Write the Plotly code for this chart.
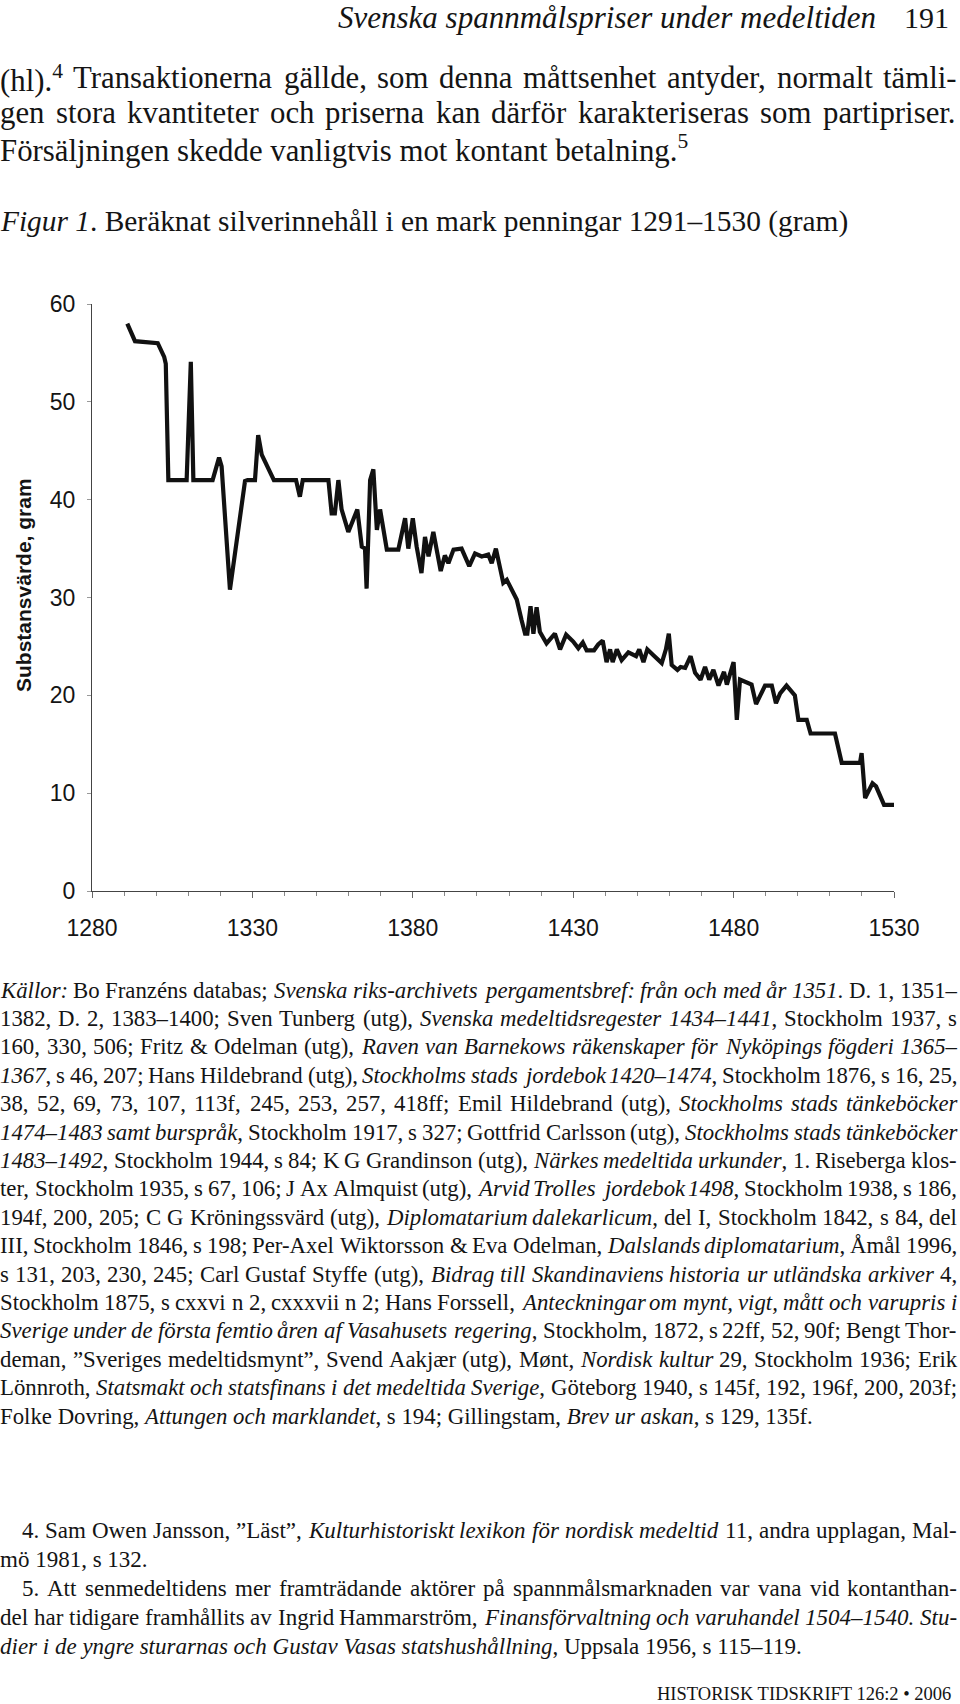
import re
import plotly.graph_objects as go

# ---- data ----
years = [
    1291.0, 1293.4, 1300.5, 1302.5, 1303.0, 1303.8, 1309.5, 1310.8, 1311.6, 1317.6,
    1319.6, 1320.4, 1323.0, 1327.7, 1328.5, 1330.8, 1331.8, 1332.9, 1336.7, 1343.6,
    1344.8, 1345.7, 1353.7, 1354.7, 1355.7, 1356.8, 1357.8, 1359.9, 1362.7, 1364.1,
    1365.1, 1365.6, 1366.7, 1367.7, 1368.8, 1369.8, 1371.9, 1375.5, 1377.6, 1378.6,
    1380.0, 1381.2, 1382.7, 1383.8, 1384.9, 1386.4, 1388.7, 1390.0, 1391.1, 1392.7,
    1395.2, 1397.6, 1399.4, 1401.5, 1403.5, 1404.6, 1405.9, 1408.2, 1409.3, 1410.3,
    1412.4, 1413.9, 1415.0, 1415.7, 1416.7, 1417.6, 1418.6, 1419.6, 1421.7, 1424.3,
    1425.9, 1427.8, 1430.0, 1431.6, 1433.0, 1434.2, 1436.5, 1437.8, 1439.2, 1440.4,
    1441.5, 1442.3, 1443.6, 1445.1, 1447.2, 1449.6, 1450.6, 1451.9, 1453.1, 1455.0,
    1457.6, 1458.9, 1459.8, 1460.7, 1462.5, 1463.5, 1464.9, 1466.6, 1468.0, 1469.7,
    1471.1, 1472.4, 1473.7, 1475.3, 1477.0, 1477.9, 1480.0, 1481.0, 1482.0, 1485.6,
    1487.0, 1489.8, 1491.9, 1493.2, 1494.5, 1496.5, 1499.1, 1500.2, 1502.8, 1504.0,
    1511.6, 1513.7, 1519.4, 1519.9, 1521.0, 1523.3, 1524.4, 1526.9, 1530.0,
]
silver_gram = [
    58.0, 56.2, 56.0, 54.6, 53.9, 42.0, 42.0, 54.1, 42.0, 42.0,
    44.3, 43.4, 30.8, 41.9, 42.0, 42.0, 46.6, 44.6, 42.0, 42.0,
    40.3, 42.0, 42.0, 38.6, 38.6, 42.0, 39.0, 36.7, 39.0, 35.2,
    35.0, 30.9, 42.0, 43.1, 36.9, 39.0, 34.9, 34.9, 38.1, 35.0,
    38.1, 35.2, 32.5, 36.2, 34.2, 36.7, 32.7, 34.3, 33.5, 34.9,
    35.0, 33.2, 34.5, 34.2, 34.4, 33.5, 35.0, 31.5, 31.8, 31.2,
    29.8, 27.7, 26.3, 26.3, 29.1, 26.3, 29.0, 26.5, 25.3, 26.3,
    24.7, 26.2, 25.5, 24.8, 25.4, 24.6, 24.6, 25.2, 25.6, 23.4,
    24.7, 23.4, 24.7, 23.6, 24.4, 24.0, 24.7, 23.4, 24.7, 24.1,
    23.3, 24.7, 26.3, 23.1, 22.6, 22.9, 22.8, 24.0, 22.3, 21.6,
    22.9, 21.6, 22.6, 21.0, 22.4, 21.1, 23.4, 17.5, 21.6, 21.1,
    19.1, 21.0, 21.0, 19.2, 20.2, 21.0, 20.0, 17.5, 17.5, 16.1,
    16.1, 13.1, 13.1, 14.1, 9.5, 11.0, 10.7, 8.8, 8.8,
]
x_tick_values = [1280, 1330, 1380, 1430, 1480, 1530]
y_tick_values = [0, 10, 20, 30, 40, 50, 60]

header_title = "Svenska spannmålspriser under medeltiden"
page_number = "191"
body_lines = [
    "(hl).<sup>4</sup> Transaktionerna gällde, som denna måttsenhet antyder, normalt tämli-",
    "gen stora kvantiteter och priserna kan därför karakteriseras som partipriser.",
    "Försäljningen skedde vanligtvis mot kontant betalning.<sup>5</sup>",
]
body_justify = [True, True, False]
caption = "<i>Figur 1</i>. Beräknat silverinnehåll i en mark penningar 1291–1530 (gram)"
y_title = "Substansvärde, gram"
source_lines = [
    "<i>Källor:</i> Bo Franzéns databas; <i>Svenska riks-archivets pergamentsbref: från och med år 1351</i>. D. 1, 1351–",
    "1382, D. 2, 1383–1400; Sven Tunberg (utg), <i>Svenska medeltidsregester 1434–1441</i>, Stockholm 1937, s",
    "160, 330, 506; Fritz & Odelman (utg), <i>Raven van Barnekows räkenskaper för Nyköpings fögderi 1365–</i>",
    "<i>1367</i>, s 46, 207; Hans Hildebrand (utg), <i>Stockholms stads jordebok 1420–1474</i>, Stockholm 1876, s 16, 25,",
    "38, 52, 69, 73, 107, 113f, 245, 253, 257, 418ff; Emil Hildebrand (utg), <i>Stockholms stads tänkeböcker</i>",
    "<i>1474–1483 samt burspråk</i>, Stockholm 1917, s 327; Gottfrid Carlsson (utg), <i>Stockholms stads tänkeböcker</i>",
    "<i>1483–1492</i>, Stockholm 1944, s 84; K G Grandinson (utg), <i>Närkes medeltida urkunder</i>, 1. Riseberga klos-",
    "ter, Stockholm 1935, s 67, 106; J Ax Almquist (utg), <i>Arvid Trolles jordebok 1498</i>, Stockholm 1938, s 186,",
    "194f, 200, 205; C G Kröningssvärd (utg), <i>Diplomatarium dalekarlicum</i>, del I, Stockholm 1842, s 84, del",
    "III, Stockholm 1846, s 198; Per-Axel Wiktorsson & Eva Odelman, <i>Dalslands diplomatarium</i>, Åmål 1996,",
    "s 131, 203, 230, 245; Carl Gustaf Styffe (utg), <i>Bidrag till Skandinaviens historia ur utländska arkiver</i> 4,",
    "Stockholm 1875, s cxxvi n 2, cxxxvii n 2; Hans Forssell, <i>Anteckningar om mynt, vigt, mått och varupris i</i>",
    "<i>Sverige under de första femtio åren af Vasahusets regering</i>, Stockholm, 1872, s 22ff, 52, 90f; Bengt Thor-",
    "deman, ”Sveriges medeltidsmynt”, Svend Aakjær (utg), Mønt, <i>Nordisk kultur</i> 29, Stockholm 1936; Erik",
    "Lönnroth, <i>Statsmakt och statsfinans i det medeltida Sverige</i>, Göteborg 1940, s 145f, 192, 196f, 200, 203f;",
    "Folke Dovring, <i>Attungen och marklandet</i>, s 194; Gillingstam, <i>Brev ur askan</i>, s 129, 135f.",
]
source_justify = [True] * 15 + [False]
footnote_lines = [
    "4. Sam Owen Jansson, ”Läst”, <i>Kulturhistoriskt lexikon för nordisk medeltid</i> 11, andra upplagan, Mal-",
    "mö 1981, s 132.",
    "5. Att senmedeltidens mer framträdande aktörer på spannmålsmarknaden var vana vid kontanthan-",
    "del har tidigare framhållits av Ingrid Hammarström, <i>Finansförvaltning och varuhandel 1504–1540. Stu-</i>",
    "<i>dier i de yngre sturarnas och Gustav Vasas statshushållning</i>, Uppsala 1956, s 115–119.",
]
footnote_indent = [True, False, True, False, False]
footnote_justify = [True, False, True, True, False]
footer = "HISTORISK TIDSKRIFT 126:2 • 2006"

# ---- layout helpers ----
W, H = 960, 1704
RIGHT_EDGE = 957
def px(x):
    return x / W
def py(y):
    return 1 - y / H

SERIF = "Liberation Serif"
SANS = "Liberation Sans"
INK = "#141414"

# Advance widths (1/1000 em) of the Times-compatible Liberation Serif
_REG = {' ': 250, '(': 333, ')': 333, ',': 250, '-': 333, '.': 250, ':': 278, ';': 278,
        '&': 778, '–': 500, '”': 444, '"': 408, '•': 350}
_ITA = {' ': 250, '(': 333, ')': 333, ',': 250, '-': 333, '.': 250, ':': 333, ';': 333,
        '&': 778, '–': 500, '”': 556, '"': 420, '•': 350}
for tbl in (_REG, _ITA):
    for ch in "0123456789":
        tbl[ch] = 500
_REG.update(dict(zip("ABCDEFGHIJKLMNOPQRSTUVWXYZ",
    [722, 667, 667, 722, 611, 556, 722, 722, 333, 389, 722, 611, 889, 722, 722, 556, 722, 667, 556, 611, 722, 722, 944, 722, 722, 611])))
_REG.update(dict(zip("abcdefghijklmnopqrstuvwxyz",
    [444, 500, 444, 500, 444, 333, 500, 500, 278, 278, 500, 278, 778, 500, 500, 500, 500, 333, 389, 278, 500, 500, 722, 500, 500, 444])))
_ITA.update(dict(zip("ABCDEFGHIJKLMNOPQRSTUVWXYZ",
    [611, 611, 667, 722, 611, 611, 722, 722, 333, 444, 667, 556, 833, 667, 722, 611, 722, 611, 500, 556, 722, 611, 833, 611, 556, 556])))
_ITA.update(dict(zip("abcdefghijklmnopqrstuvwxyz",
    [500, 500, 444, 500, 444, 278, 500, 500, 278, 278, 444, 278, 722, 500, 500, 500, 500, 389, 389, 278, 500, 444, 667, 444, 444, 389])))
for tbl in (_REG, _ITA):
    for acc, base in (("åäá", "a"), ("öø", "o"), ("é", "e"), ("ÅÄ", "A"), ("Ö", "O")):
        for ch in acc:
            tbl[ch] = tbl[base]
_REG['æ'] = 667
_ITA['æ'] = 667


def parse_words(line):
    chars = []
    italic = sup = False
    for tok in re.split(r'(</?i>|</?sup>)', line):
        if tok == '<i>':
            italic = True
        elif tok == '</i>':
            italic = False
        elif tok == '<sup>':
            sup = True
        elif tok == '</sup>':
            sup = False
        else:
            chars.extend((c, italic, sup) for c in tok)
    words, cur = [], []
    for c in chars:
        if c[0] == ' ':
            if cur:
                words.append(cur)
                cur = []
        else:
            cur.append(c)
    if cur:
        words.append(cur)
    return words


def word_html(word):
    out, i = "", 0
    while i < len(word):
        it, sp = word[i][1], word[i][2]
        j = i
        seg = ""
        while j < len(word) and word[j][1] == it and word[j][2] == sp:
            seg += word[j][0]
            j += 1
        if sp:
            seg = "<sup>" + seg + "</sup>"
        if it:
            seg = "<i>" + seg + "</i>"
        out += seg
        i = j
    return out


def word_width(word, size):
    w = 0.0
    for ch, it, sp in word:
        tbl = _ITA if it else _REG
        w += tbl.get(ch, 500) / 1000 * size * (0.7 if sp else 1.0)
    return w


fig = go.Figure()
fig.add_trace(go.Scatter(
    x=years, y=silver_gram, mode="lines",
    line=dict(color="#111111", width=4.2),
    hoverinfo="skip", showlegend=False, cliponaxis=False,
))

ann = []
def text(x, y, s, size, family=SERIF, anchor="left", **kw):
    ann.append(dict(x=px(x), y=py(y), xref="paper", yref="paper", text=s,
                    showarrow=False, xanchor=anchor, yanchor="middle",
                    borderpad=0, borderwidth=0,
                    font=dict(family=family, size=size, color=INK), **kw))


def text_line(x0, y, s, size, justify):
    if not justify:
        text(x0, y, s, size)
        return
    words = parse_words(s)
    widths = [word_width(w, size) for w in words]
    gap = (RIGHT_EDGE - x0 - sum(widths)) / max(len(words) - 1, 1)
    x = x0
    for w, wd in zip(words, widths):
        text(x, y, word_html(w), size)
        x += wd + gap


text(876, 17, "<i>" + header_title + "</i>", 31, anchor="right")
text(949, 17, page_number, 30, anchor="right")
for i, s in enumerate(body_lines):
    text_line(0, 78 + i * 35, s, 30.8, body_justify[i])
text(0, 222, caption, 29.4)
text(24, 585, "<b>" + y_title + "</b>", 21, family=SANS, anchor="center", textangle=-90)
for i, s in enumerate(source_lines):
    text_line(0, 990 + i * 28.4, s, 22.8, source_justify[i])
for i, s in enumerate(footnote_lines):
    text_line(22 if footnote_indent[i] else 0, 1530 + i * 29, s, 23, footnote_justify[i])
text(951, 1694, footer, 18.5, anchor="right")

fig.update_layout(
    width=W, height=H,
    margin=dict(l=0, r=0, t=0, b=0, autoexpand=False),
    paper_bgcolor="white", plot_bgcolor="white",
    annotations=ann,
    xaxis=dict(
        domain=[px(92), px(894)], range=[1280, 1530], automargin=False,
        tickvals=x_tick_values, ticktext=[str(v) for v in x_tick_values],
        showgrid=False, zeroline=False,
        showline=True, linecolor="#444444", linewidth=1.2,
        ticks="outside", ticklen=6, tickcolor="#666666", tickwidth=1,
        ticklabelstandoff=10,
        minor=dict(dtick=10, tick0=1280, ticks="outside", ticklen=4, tickcolor="#888888"),
        tickfont=dict(family=SANS, size=23, color=INK),
    ),
    yaxis=dict(
        domain=[py(891), py(304)], range=[0, 60], automargin=False,
        tickvals=y_tick_values,
        showgrid=False, zeroline=False,
        showline=True, linecolor="#444444", linewidth=1.2,
        ticks="outside", ticklen=4, tickcolor="#999999", tickwidth=1,
        ticklabelstandoff=7,
        tickfont=dict(family=SANS, size=23, color=INK),
    ),
)

fig.write_html("out.html")
